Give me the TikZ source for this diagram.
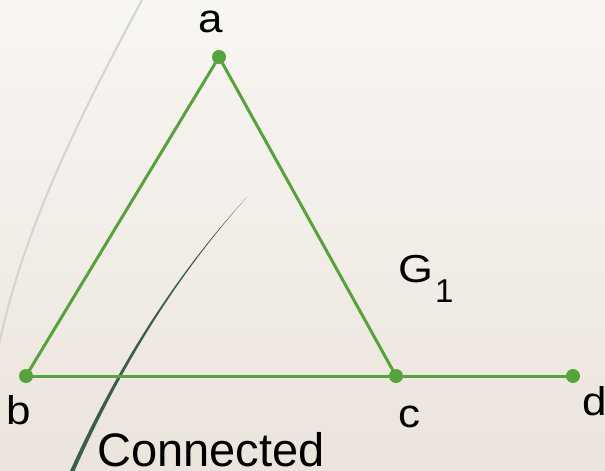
\documentclass[tikz,border=0pt]{standalone}
\usepackage{fontspec}
\setmainfont{Liberation Sans}
\definecolor{edgegreen}{HTML}{56A23C}
\definecolor{bgtop}{HTML}{F8F6F3}
\definecolor{bgbot}{HTML}{EBE4DC}
\definecolor{arcgray}{HTML}{D2D4D0}
\definecolor{swoosh}{HTML}{3E5C4C}
\tikzset{
  vert/.style={circle, fill=edgegreen, inner sep=0pt, minimum size=14pt},
  edge/.style={draw=edgegreen, line width=3pt},
  lbl/.style={inner sep=0pt, anchor=base, font=\fontsize{40}{48}\selectfont},
}
\begin{document}
\begin{tikzpicture}[x=1pt,y=-1pt]
\useasboundingbox (0,0) rectangle (605,471);
\shade[top color=bgtop, bottom color=bgbot] (0,0) rectangle (605,471);
% decorative arcs
\draw[arcgray, line width=2pt] (142,0) .. controls (82,112) and (22,230) .. (-2,350);
\fill[swoosh] (247,197) .. controls (171,280) and (115,372) .. (70,471) -- (74.5,471) .. controls (118.5,372) and (173,280) .. (247,197) -- cycle;
% vertices
\node[vert] (a) at (219,57) {};
\node[vert] (b) at (26,376) {};
\node[vert] (c) at (396,376) {};
\node[vert] (d) at (573,376) {};
% edges
\draw[edge] (a.center) -- (b.center);
\draw[edge] (a.center) -- (c.center);
\draw[edge] (b.center) -- (c.center);
\draw[edge] (c.center) -- (d.center);
% labels
\node[lbl] (la) at (211,32) {\scalebox{1.1}[1]{a}};
\node[lbl] (lb) at (19,424) {\scalebox{1.1}[1]{b}};
\node[lbl] (lc) at (409,427) {\scalebox{1.1}[1]{c}};
\node[lbl, anchor=base west] (ld) at (582,415) {\scalebox{1.1}[1]{d}};
\node[inner sep=0pt, anchor=base west, font=\fontsize{39}{46}\selectfont] (g1) at (398,282) {\scalebox{1.15}[1]{G}\hspace{2pt}\raisebox{-20pt}{\fontsize{33}{33}\selectfont 1}};
\node[inner sep=0pt, anchor=base west, font=\fontsize{47}{56}\selectfont] (conn) at (97,466) {Connected};
\end{tikzpicture}
\end{document}
